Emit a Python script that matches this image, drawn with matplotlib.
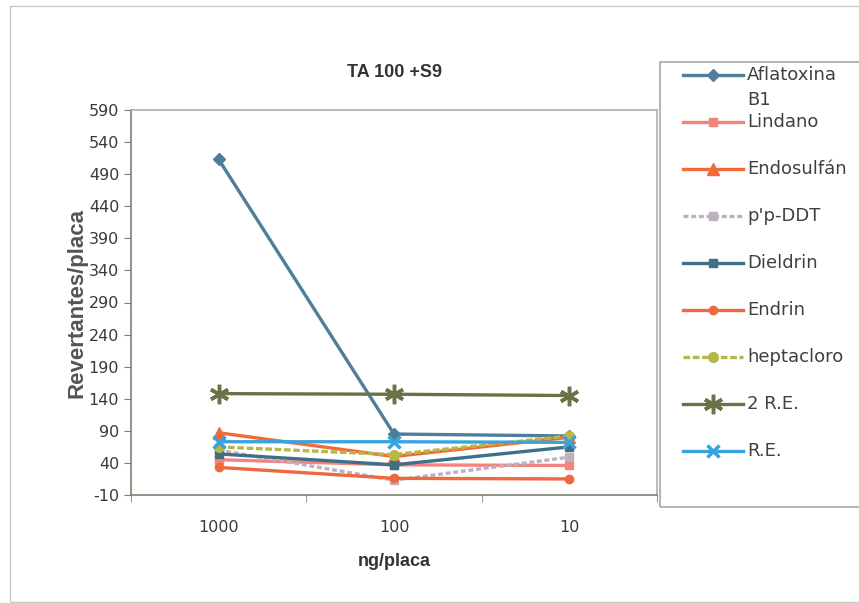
import os
import matplotlib
matplotlib.use("Agg")
import matplotlib.pyplot as plt
import matplotlib.font_manager as fm
from matplotlib.patches import Rectangle
from matplotlib.lines import Line2D

plt.rcParams['font.family'] = ['DejaVu Sans']
plt.rcParams['axes.unicode_minus'] = False

doses = ["1000", "100", "10"]

aflatoxina = [513, 85, 82]
lindano    = [45, 37, 36]
endosulfan = [87, 50, 80]
ppddt      = [60, 13, 49]
dieldrin   = [54, 37, 65]
endrin     = [33, 16, 15]
heptacloro = [65, 53, 82]
dos_re     = [148, 147, 145]
re         = [73, 73, 72]

labels = ["Aflatoxina\nB1", "Lindano", "Endosulfán", "p'p-DDT", "Dieldrin",
          "Endrin", "heptacloro", "2 R.E.", "R.E."]
yticks = list(range(-10, 591, 50))

series = [
    (aflatoxina, dict(color="#4f7e9a", marker="D", ms=6, ls="-")),
    (lindano,    dict(color="#f4837e", marker="s", ms=6, ls="-")),
    (endosulfan, dict(color="#f26a38", marker="^", ms=8, ls="-")),
    (ppddt,      dict(color="#bfb0c0", marker="s", ms=6, ls=(0, (1.5, 0.8)))),
    (dieldrin,   dict(color="#3f7088", marker="s", ms=6, ls="-")),
    (endrin,     dict(color="#ee6840", marker="o", ms=6, ls="-")),
    (heptacloro, dict(color="#b4b848", marker="o", ms=7, ls=(0, (2, 0.8)))),
    (dos_re,     dict(color="#6c7148", marker=(6, 2, 0), ms=14, mew=2.5, ls="-")),
    (re,         dict(color="#3aa3dc", marker="x", ms=9, mew=2.5, ls="-")),
]


def bold_font(size):
    # plain Liberation Sans Bold (the family lookup can land on the Narrow cut)
    paths = [f for f in fm.findSystemFonts() if os.path.basename(f) == "LiberationSans-Bold.ttf"]
    if paths:
        return fm.FontProperties(fname=paths[0], size=size)
    return fm.FontProperties(family="DejaVu Sans", weight="bold", size=size * 0.9)


W, H = 859, 603
fig = plt.figure(figsize=(W / 100, H / 100), dpi=100)
ax = fig.add_axes([131 / W, 1 - 495 / H, 526 / W, 385 / H])

x = list(range(len(doses)))
for (vals, style), lab in zip(series, labels):
    ax.plot(x, vals, lw=2.4, label=lab, **style)

ax.set_xlim(-0.5, 2.5)
ax.set_ylim(-10, 590)
ax.set_yticks(yticks)
ax.set_xticks(x)
ax.set_xticklabels(doses, fontsize=11.5, color="#3a3a3a")
ax.set_xticks([-0.5, 0.5, 1.5, 2.5], minor=True)
ax.tick_params(axis="x", which="major", length=0, pad=18)
ax.tick_params(axis="x", which="minor", length=5, direction="out", color="#808080")
ax.tick_params(axis="y", labelsize=11.5, labelcolor="#3a3a3a", length=5, color="#808080")
for side in ["top", "right"]:
    ax.spines[side].set_color("#b0b0a0")
    ax.spines[side].set_linewidth(1.2)
for side in ["left", "bottom"]:
    ax.spines[side].set_color("#808070")
    ax.spines[side].set_linewidth(1.2)

ax.set_title("TA 100 +S9", fontproperties=bold_font(13), color="#333333", pad=24)
ax.set_xlabel("ng/placa", fontproperties=bold_font(13), color="#333333", labelpad=13)
ax.set_ylabel("Revertantes/placa", fontproperties=bold_font(16), color="#555555", labelpad=1)

# legend box drawn by hand (Excel-style, clipped at the right edge)
fig.patches.append(Rectangle((660 / W, 1 - 507 / H), 0.3, 445 / H, transform=fig.transFigure,
                             fill=False, edgecolor="#a8a8a8", lw=1.2))
for i, ((vals, style), lab) in enumerate(zip(series, labels)):
    yy = 1 - (75 + 47 * i) / H
    fig.add_artist(Line2D([683 / W, 743 / W], [yy, yy], transform=fig.transFigure,
                          lw=2.4, color=style["color"], ls=style["ls"]))
    fig.add_artist(Line2D([713 / W], [yy], transform=fig.transFigure, ls="none",
                          color=style["color"], marker=style["marker"], ms=style["ms"],
                          mew=style.get("mew", 1)))
    for j, line in enumerate(lab.split("\n")):
        fig.text(747 / W, yy - 25 * j / H, line, fontsize=13, color="#404040",
                 va="center", ha="left")

fig.patches.append(Rectangle((10 / W, 1 / H), 0.99, 596 / H, transform=fig.transFigure,
                             fill=False, edgecolor="#c8c8c8", lw=1.0))

fig.savefig("out.png", dpi=100)
